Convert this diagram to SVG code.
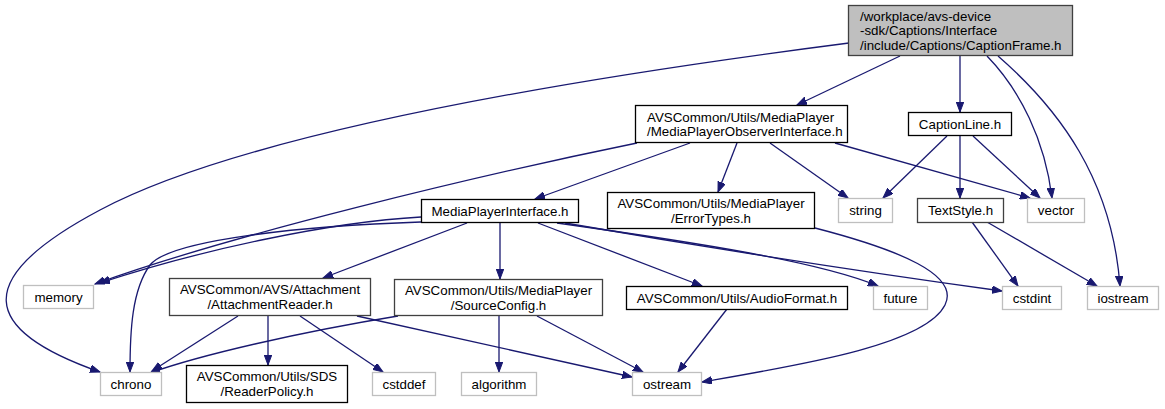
<svg xmlns="http://www.w3.org/2000/svg" width="1165" height="409" viewBox="0 0 1165 409">
<style>
.n rect{fill:#fff;stroke:#000;stroke-width:1.3}
.n.g rect{stroke:#bfbfbf}
.n.d rect{stroke:#404040}
.n.root rect{fill:#bfbfbf;stroke:#404040}
text{font-family:"Liberation Sans",Arial,Helvetica,sans-serif;font-size:13.33px;fill:#000;text-anchor:middle}
text.l{text-anchor:start}
#edges path{fill:none;stroke:#191970;stroke-width:1.3;marker-end:url(#ah)}
</style>
<defs>
<marker id="ah" markerUnits="userSpaceOnUse" markerWidth="11" markerHeight="8" refX="10" refY="3.75" orient="auto">
<path d="M0,0 L10,3.75 L0,7.5 z" fill="#191970" stroke="#191970" stroke-width="1"/>
</marker>
</defs>
<rect width="1165" height="409" fill="#fff"/>
<g id="edges">
<path d="M849,43 C600,75 250,130 100,210 C-30,279 -20,330 100,372"/>
<path d="M900,56 L797,105"/>
<path d="M960,56 L960,112"/>
<path d="M987,56 C1020,90 1045,140 1052,198"/>
<path d="M998,56 C1060,110 1112,180 1120,286"/>
<path d="M690,143 L535,199"/>
<path d="M637,143 C480,175 230,235 95,284"/>
<path d="M737,143 L718,192"/>
<path d="M770,143 L848,198"/>
<path d="M835,143 L1030,198"/>
<path d="M947,136 L883,198"/>
<path d="M960,136 L960,198"/>
<path d="M973,136 L1040,198"/>
<path d="M972,222 L1018,286"/>
<path d="M987,222 L1097,286"/>
<path d="M815,228 C900,250 960,275 945,305 C925,345 800,365 702,382"/>
<path d="M421,217 C330,222 200,250 100,283"/>
<path d="M421,222 C300,226 170,240 150,265 C132,290 130,330 130,372"/>
<path d="M467,223 L323,278"/>
<path d="M500,223 L500,279"/>
<path d="M538,223 L702,286"/>
<path d="M557,223 C700,243 820,262 878,286"/>
<path d="M565,223 C750,255 900,277 1002,291"/>
<path d="M238,316 L152,371"/>
<path d="M268,316 L268,365"/>
<path d="M300,316 L383,372"/>
<path d="M357,316 L632,377"/>
<path d="M398,316 C300,332 200,355 150,373"/>
<path d="M499,316 L499,372"/>
<path d="M537,316 L643,372"/>
<path d="M727,309 L678,372"/>
</g>
<g id="root" class="n root"><rect x="848.5" y="5.5" width="224" height="50"/><text class="l" x="860" y="20.5">/workplace/avs-device</text><text class="l" x="860" y="35">-sdk/Captions/Interface</text><text class="l" x="860" y="49.5">/include/Captions/CaptionFrame.h</text></g>
<g id="captionline" class="n"><rect x="908.5" y="112.5" width="103" height="23"/><text x="960" y="128.5">CaptionLine.h</text></g>
<g id="mpoi" class="n"><rect x="635.5" y="105.5" width="212" height="37"/><text class="l" x="647" y="121.5">AVSCommon/Utils/MediaPlayer</text><text class="l" x="647" y="136">/MediaPlayerObserverInterface.h</text></g>
<g id="errortypes" class="n"><rect x="607.5" y="192.5" width="207" height="36"/><text x="711" y="208">AVSCommon/Utils/MediaPlayer</text><text x="711" y="222.5">/ErrorTypes.h</text></g>
<g id="string" class="n g"><rect x="838.5" y="198.5" width="54" height="24"/><text x="865.5" y="215">string</text></g>
<g id="textstyle" class="n d"><rect x="917.5" y="198.5" width="86" height="24"/><text x="960.5" y="215">TextStyle.h</text></g>
<g id="vector" class="n g"><rect x="1027.5" y="198.5" width="57" height="24"/><text x="1056" y="215">vector</text></g>
<g id="mpi" class="n"><rect x="421.5" y="199.5" width="157" height="23"/><text x="500" y="215.5">MediaPlayerInterface.h</text></g>
<g id="memory" class="n g"><rect x="23.5" y="285.5" width="70" height="23"/><text x="58.5" y="301.5">memory</text></g>
<g id="attachmentreader" class="n d"><rect x="169.5" y="278.5" width="201" height="37"/><text x="270" y="294">AVSCommon/AVS/Attachment</text><text x="270" y="308.5">/AttachmentReader.h</text></g>
<g id="sourceconfig" class="n d"><rect x="394.5" y="279.5" width="208" height="36"/><text x="498.5" y="295">AVSCommon/Utils/MediaPlayer</text><text x="498.5" y="309.5">/SourceConfig.h</text></g>
<g id="audioformat" class="n"><rect x="626.5" y="286.5" width="221" height="23"/><text x="737" y="302.5">AVSCommon/Utils/AudioFormat.h</text></g>
<g id="future" class="n g"><rect x="873.5" y="286.5" width="54" height="23"/><text x="900.5" y="302.5">future</text></g>
<g id="cstdint" class="n g"><rect x="1002.5" y="286.5" width="59" height="23"/><text x="1032" y="302.5">cstdint</text></g>
<g id="iostream" class="n g"><rect x="1087.5" y="286.5" width="71" height="23"/><text x="1123" y="302.5">iostream</text></g>
<g id="chrono" class="n g"><rect x="100.5" y="372.5" width="61" height="23"/><text x="131" y="388.5">chrono</text></g>
<g id="readerpolicy" class="n"><rect x="186.5" y="365.5" width="161" height="37"/><text x="267" y="381">AVSCommon/Utils/SDS</text><text x="267" y="395.5">/ReaderPolicy.h</text></g>
<g id="cstddef" class="n g"><rect x="372.5" y="372.5" width="63" height="23"/><text x="404" y="388.5">cstddef</text></g>
<g id="algorithm" class="n g"><rect x="461.5" y="372.5" width="75" height="23"/><text x="499" y="388.5">algorithm</text></g>
<g id="ostream" class="n g"><rect x="632.5" y="372.5" width="69" height="23"/><text x="667" y="388.5">ostream</text></g>
</svg>
